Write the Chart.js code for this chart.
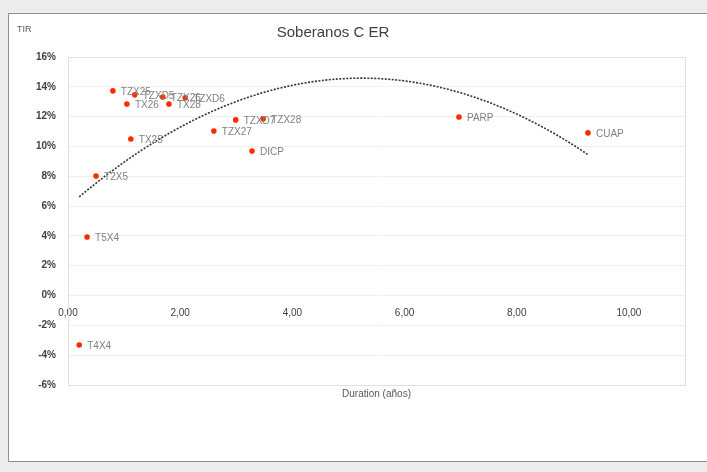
<!DOCTYPE html>
<html><head><meta charset="utf-8">
<script src="https://cdn.jsdelivr.net/npm/chart.js@4.4.0/dist/chart.umd.min.js"></script>
<style>
html,body{margin:0;padding:0;background:#ececec;width:707px;height:472px;overflow:hidden}
#box{position:absolute;left:8px;top:13px;width:710px;height:447px;background:#fff;border:1px solid #8f8f8f;}
#wrap{position:absolute;left:0;top:0;width:707px;height:472px}
</style></head><body>
<div id="box"></div>
<div id="wrap"><canvas id="c"></canvas></div>
<script>
// Bond names, duration (years) and TIR (%)
const bonds    = ['T4X4','T5X4','T2X5','TX25','TZX25','TX26','TZXD5','TZX26','TX28','TZXD6','TZX27','TZXD7','TZX28','DICP','PARP','CUAP'];
const duration = [0.20, 0.34, 0.50, 1.12, 0.80, 1.05, 1.19, 1.69, 1.80, 2.09, 2.60, 2.99, 3.48, 3.28, 6.97, 9.27];
const tir      = [-3.32, 3.93, 8.02, 10.50, 13.73, 12.85, 13.46, 13.32, 12.85, 13.26, 11.04, 11.78, 11.85, 9.70, 11.98, 10.91];
const xTickValues = [0, 2, 4, 6, 8, 10];
const yMin = -6, yMax = 16, yStep = 2;
const xMin = 0, xMax = 11;
const chartTitle = 'Soberanos C ER';
const yTitle = 'TIR';
const xTitle = 'Duration (años)';

// Polynomial (order 2) least-squares trendline, as Excel computes it from the data
function quadFit(xs, ys) {
  const n = xs.length;
  let S = [0,0,0,0,0], T = [0,0,0];
  for (let i = 0; i < n; i++) {
    const x = xs[i], y = ys[i];
    let p = 1;
    for (let k = 0; k < 5; k++) { S[k] += p; if (k < 3) T[k] += p * y; p *= x; }
  }
  const A = [[S[0],S[1],S[2],T[0]],[S[1],S[2],S[3],T[1]],[S[2],S[3],S[4],T[2]]];
  for (let i = 0; i < 3; i++) {
    for (let j = i + 1; j < 3; j++) {
      const f = A[j][i] / A[i][i];
      for (let k = i; k < 4; k++) A[j][k] -= f * A[i][k];
    }
  }
  const c = [0,0,0];
  for (let i = 2; i >= 0; i--) {
    let s = A[i][3];
    for (let k = i + 1; k < 3; k++) s -= A[i][k] * c[k];
    c[i] = s / A[i][i];
  }
  return c;
}
const coef = quadFit(duration, tir);
const tMin = Math.min(...duration), tMax = Math.max(...duration);
const trend = [];
for (let i = 0; i <= 80; i++) {
  const x = tMin + (tMax - tMin) * i / 80;
  trend.push({x: x, y: coef[0] + coef[1] * x + coef[2] * x * x});
}

const pts = duration.map((d, i) => ({x: d, y: tir[i]}));

const extras = {
  id: 'extras',
  beforeDatasetsDraw(chart) {
    const {ctx, chartArea: a} = chart;
    ctx.save();
    ctx.strokeStyle = '#d9e2f1';
    ctx.lineWidth = 1;
    ctx.strokeRect(a.left + 0.5, a.top + 0.5, a.right - a.left, a.bottom - a.top);
    ctx.restore();
  },
  afterDatasetsDraw(chart) {
    const {ctx} = chart;
    const meta = chart.getDatasetMeta(1);
    ctx.save();
    ctx.font = '10px "Liberation Sans Narrow", "Liberation Sans", sans-serif';
    ctx.fillStyle = '#808080';
    ctx.textBaseline = 'middle';
    ctx.textAlign = 'left';
    meta.data.forEach((el, i) => { ctx.fillText(bonds[i], el.x + 8, el.y + 1); });
    ctx.restore();
  },
  afterDraw(chart) {
    const {ctx, chartArea: a} = chart;
    ctx.save();
    ctx.fillStyle = '#404040';
    ctx.textAlign = 'center';
    ctx.textBaseline = 'middle';
    ctx.font = '15px "Liberation Sans Narrow", "Liberation Sans", sans-serif';
    ctx.fillText(chartTitle, 333, 33);
    ctx.font = '9px "Liberation Sans Narrow", "Liberation Sans", sans-serif';
    ctx.fillStyle = '#595959';
    ctx.textAlign = 'left';
    ctx.fillText(yTitle, 17, 30);
    ctx.textAlign = 'center';
    ctx.font = '10px "Liberation Sans Narrow", "Liberation Sans", sans-serif';
    ctx.fillText(xTitle, (a.left + a.right) / 2, a.bottom + 9);
    ctx.restore();
  }
};

new Chart(document.getElementById('c'), {
  type: 'scatter',
  data: {
    datasets: [
      {
        type: 'line', data: trend, borderColor: '#333', borderWidth: 1.6,
        borderDash: [2, 1.5], pointRadius: 0, fill: false, tension: 0
      },
      {
        data: pts, backgroundColor: '#ff2a00', borderColor: '#ff2a00',
        pointRadius: 2.8, pointHoverRadius: 2.8, borderWidth: 0
      }
    ]
  },
  options: {
    responsive: true, maintainAspectRatio: false, animation: false,
    layout: {padding: {left: 26, right: 22, top: 57, bottom: 87}},
    plugins: {legend: {display: false}, tooltip: {enabled: false}, title: {display: false}},
    scales: {
      x: {
        type: 'linear', min: xMin, max: xMax,
        position: {y: 0},
        grid: {display: false, drawTicks: true, tickLength: 8},
        border: {display: false},
        afterBuildTicks(scale) { scale.ticks = xTickValues.map(v => ({value: v})); },
        ticks: {
          padding: 4, color: '#404040',
          font: {family: '"Liberation Sans Narrow", "Liberation Sans", sans-serif', size: 10},
          callback: v => v.toFixed(2).replace('.', ',')
        }
      },
      y: {
        type: 'linear', min: yMin, max: yMax,
        afterFit(scale) { scale.width = 42; },
        grid: {color: '#f0f0f0', drawTicks: false},
        border: {display: false},
        ticks: {
          stepSize: yStep, padding: 12, color: '#404040',
          font: {family: '"Liberation Sans Narrow", "Liberation Sans", sans-serif', size: 10, weight: 'bold'},
          callback: v => v + '%'
        }
      }
    }
  },
  plugins: [extras]
});
</script>
</body></html>
